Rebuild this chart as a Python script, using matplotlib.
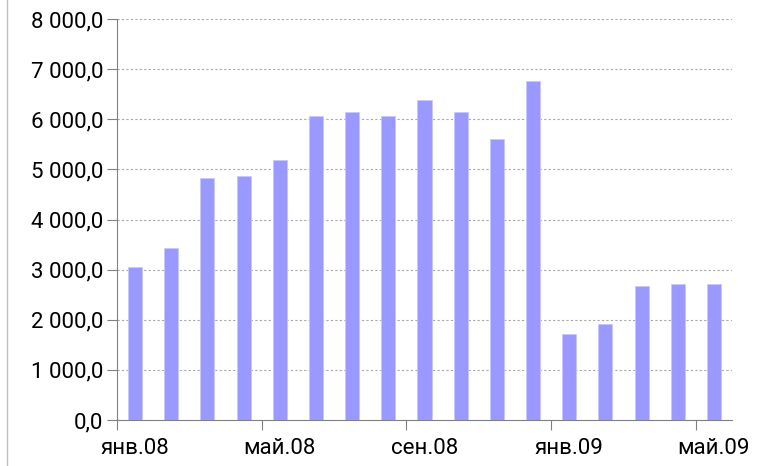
import numpy as np
import matplotlib.pyplot as plt
from matplotlib.ticker import FuncFormatter

months = ['янв.08', 'фев.08', 'мар.08', 'апр.08', 'май.08', 'июн.08', 'июл.08', 'авг.08',
          'сен.08', 'окт.08', 'ноя.08', 'дек.08', 'янв.09', 'фев.09', 'мар.09', 'апр.09', 'май.09']
values = [3050, 3440, 4830, 4870, 5190, 6070, 6150, 6070, 6390, 6150, 5610, 6770,
          1710, 1910, 2670, 2710, 2710]

plt.rcParams['font.family'] = ['Roboto', 'DejaVu Sans']

fig = plt.figure(figsize=(7.63, 4.66), dpi=100)
ax = fig.add_axes([117/763, 46/466, 615/763, 401/466])

x = np.arange(len(values))
ax.bar(x, values, width=0.39, color='#9999ff', edgecolor='#c8c8ff', linewidth=0.6, zorder=3)

ax.set_xlim(-0.5, len(values) - 0.5)
ax.set_ylim(0, 8000)
ax.set_yticks(np.arange(0, 8001, 1000))
ax.yaxis.set_major_formatter(FuncFormatter(
    lambda v, p: '{:,.1f}'.format(v).replace(',', ' ').replace('.', ',')))
ax.grid(axis='y', linestyle=(0, (2, 2)), color='#a8a8a8', linewidth=0.8, zorder=0)

# ticks at category boundaries, labels centred on every 4th bar
ax.set_xticks(np.arange(-0.5, len(values), 4))
ax.set_xticklabels([])
ax.set_xticks(x[::4], minor=True)
ax.set_xticklabels([months[i] for i in x[::4]], minor=True)
ax.tick_params(axis='x', which='minor', length=0, pad=13, labelsize=16)
ax.tick_params(axis='x', which='major', length=7, direction='out', color='#808080')
ax.tick_params(axis='y', length=7, direction='out', color='#808080', labelsize=16, pad=3)

for s in ['top', 'right']:
    ax.spines[s].set_visible(False)
for s in ['left', 'bottom']:
    ax.spines[s].set_color('#808080')

fig.add_artist(plt.Line2D([7/763, 7/763], [0, 1], color='#c0c0c0', linewidth=1,
                          transform=fig.transFigure))

fig.savefig('out.png', dpi=100)
